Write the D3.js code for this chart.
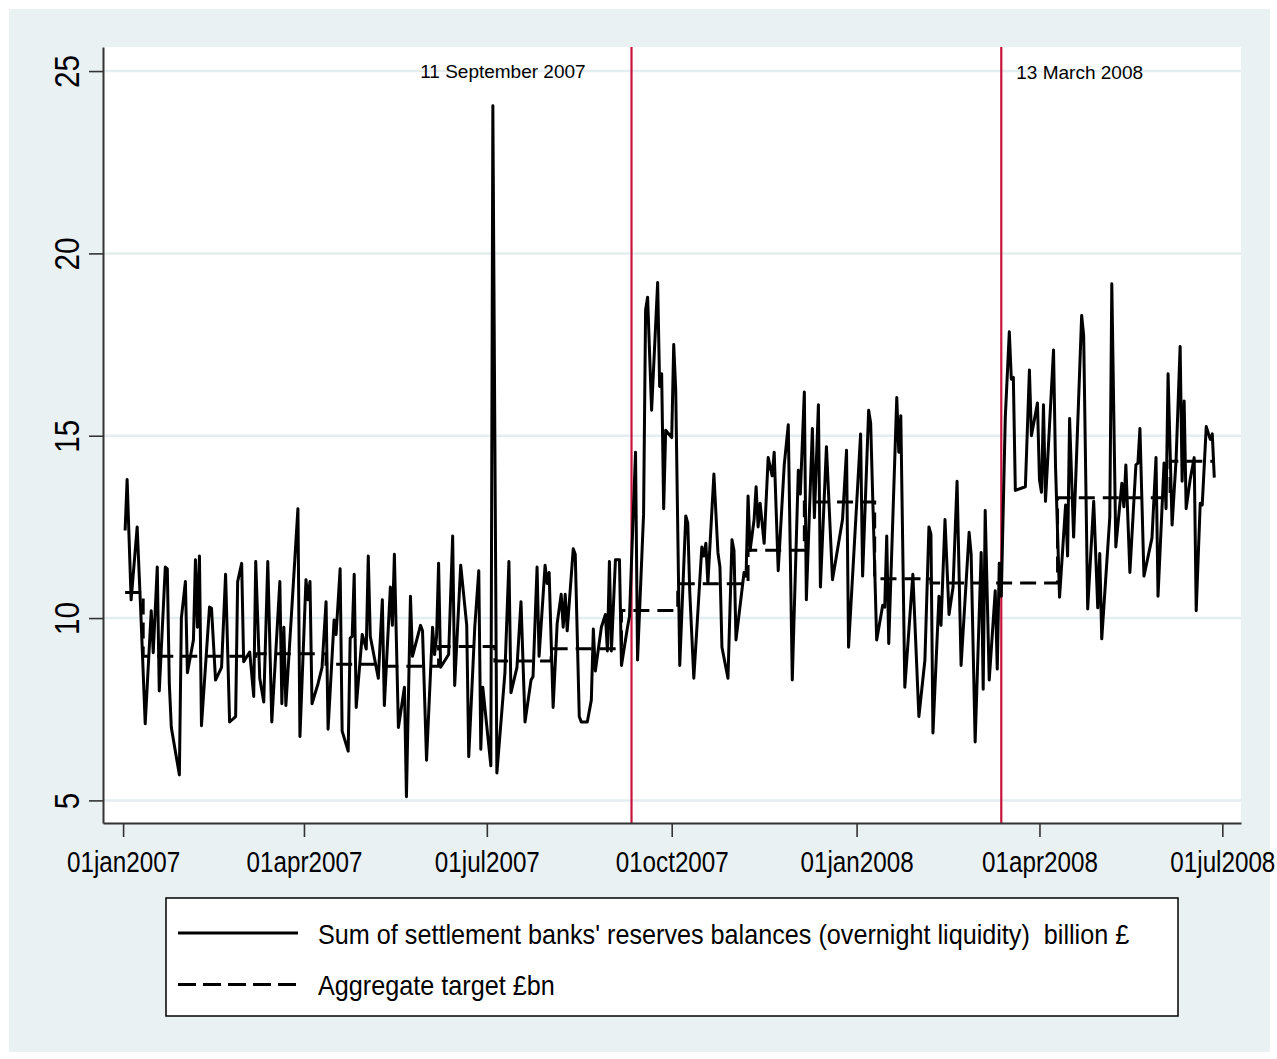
<meta charset="utf-8">
<html>
<head>
<style>
  body { margin: 0; background: #fff; }
  text { font-family: "Liberation Sans", Arial, sans-serif; fill: #000; }
</style>
</head>
<body>
<!-- chart goes here -->
<div id="my_dataviz"></div>
<script src="https://d3js.org/d3.v7.min.js"></script>
<script>
// reserves balances (billion £)
var resDates = [
  "2007-01-02","2007-01-03","2007-01-05","2007-01-08","2007-01-10","2007-01-12","2007-01-15","2007-01-16","2007-01-18","2007-01-19",
  "2007-01-22","2007-01-23","2007-01-24","2007-01-25","2007-01-29","2007-01-30","2007-02-01","2007-02-02","2007-02-05","2007-02-06",
  "2007-02-07","2007-02-08","2007-02-09","2007-02-13","2007-02-14","2007-02-16","2007-02-19","2007-02-21","2007-02-23","2007-02-26",
  "2007-02-27","2007-03-01","2007-03-02","2007-03-05","2007-03-07","2007-03-08","2007-03-10","2007-03-12","2007-03-14","2007-03-16",
  "2007-03-20","2007-03-21","2007-03-22","2007-03-23","2007-03-29","2007-03-30","2007-04-02","2007-04-03","2007-04-04","2007-04-05",
  "2007-04-08","2007-04-10","2007-04-12","2007-04-13","2007-04-16","2007-04-17","2007-04-19","2007-04-20","2007-04-23","2007-04-24",
  "2007-04-25","2007-04-26","2007-04-27","2007-04-30","2007-05-02","2007-05-03","2007-05-04","2007-05-08","2007-05-10","2007-05-11",
  "2007-05-14","2007-05-15","2007-05-16","2007-05-18","2007-05-21","2007-05-22","2007-05-24","2007-05-25","2007-05-29","2007-05-30",
  "2007-06-01","2007-06-04","2007-06-05","2007-06-06","2007-06-07","2007-06-08","2007-06-12","2007-06-14","2007-06-15","2007-06-18",
  "2007-06-21","2007-06-22","2007-06-25","2007-06-27","2007-06-28","2007-06-29","2007-07-03","2007-07-04","2007-07-06","2007-07-10",
  "2007-07-12","2007-07-13","2007-07-16","2007-07-18","2007-07-20","2007-07-23","2007-07-24","2007-07-26","2007-07-27","2007-07-30",
  "2007-07-31","2007-08-01","2007-08-03","2007-08-05","2007-08-07","2007-08-08","2007-08-09","2007-08-10","2007-08-13","2007-08-14",
  "2007-08-16","2007-08-17","2007-08-20","2007-08-22","2007-08-23","2007-08-24","2007-08-27","2007-08-29","2007-08-30","2007-08-31",
  "2007-09-01","2007-09-03","2007-09-05","2007-09-06","2007-09-09","2007-09-10","2007-09-13","2007-09-14","2007-09-17","2007-09-18",
  "2007-09-19","2007-09-21","2007-09-24","2007-09-25","2007-09-26","2007-09-27","2007-09-28","2007-10-01","2007-10-02","2007-10-03",
  "2007-10-05","2007-10-08","2007-10-09","2007-10-10","2007-10-12","2007-10-16","2007-10-17","2007-10-18","2007-10-19","2007-10-22",
  "2007-10-24","2007-10-25","2007-10-26","2007-10-29","2007-10-31","2007-11-01","2007-11-02","2007-11-06","2007-11-07","2007-11-08",
  "2007-11-09","2007-11-11","2007-11-12","2007-11-13","2007-11-14","2007-11-16","2007-11-18","2007-11-20","2007-11-21","2007-11-23",
  "2007-11-26","2007-11-28","2007-11-30","2007-12-03","2007-12-04","2007-12-06","2007-12-07","2007-12-10","2007-12-11","2007-12-13",
  "2007-12-14","2007-12-17","2007-12-20","2007-12-25","2007-12-27","2007-12-28","2008-01-03","2008-01-04","2008-01-07","2008-01-08",
  "2008-01-11","2008-01-14","2008-01-15","2008-01-16","2008-01-17","2008-01-21","2008-01-22","2008-01-23","2008-01-25","2008-01-29",
  "2008-02-01","2008-02-04","2008-02-06","2008-02-07","2008-02-08","2008-02-11","2008-02-12","2008-02-14","2008-02-16","2008-02-18",
  "2008-02-20","2008-02-22","2008-02-26","2008-02-27","2008-02-29","2008-03-03","2008-03-04","2008-03-05","2008-03-07","2008-03-10",
  "2008-03-11","2008-03-12","2008-03-13","2008-03-15","2008-03-17","2008-03-18","2008-03-19","2008-03-20","2008-03-25","2008-03-27",
  "2008-03-28","2008-03-31","2008-04-01","2008-04-02","2008-04-03","2008-04-04","2008-04-08","2008-04-09","2008-04-11","2008-04-14",
  "2008-04-15","2008-04-16","2008-04-18","2008-04-22","2008-04-23","2008-04-25","2008-04-28","2008-04-30","2008-05-01","2008-05-02",
  "2008-05-06","2008-05-07","2008-05-09","2008-05-12","2008-05-13","2008-05-14","2008-05-16","2008-05-19","2008-05-20","2008-05-21",
  "2008-05-23","2008-05-27","2008-05-29","2008-05-30","2008-06-02","2008-06-03","2008-06-04","2008-06-06","2008-06-08","2008-06-10",
  "2008-06-11","2008-06-12","2008-06-13","2008-06-15","2008-06-17","2008-06-18","2008-06-20","2008-06-21","2008-06-23","2008-06-25",
  "2008-06-26","2008-06-27"
];
var resValues = [
  12.4,13.8,10.5,12.5,9.9,7.1,10.2,9.05,11.4,8.0,
  11.4,11.35,8.2,7.0,5.7,10.0,11.0,8.5,9.4,11.6,
  9.75,11.7,7.05,10.3,10.27,8.3,8.65,11.2,7.15,7.3,
  11.0,11.5,8.8,9.07,7.85,11.55,8.35,7.7,11.55,7.15,
  11.0,7.65,9.75,7.6,13.0,6.75,11.05,10.5,11.0,7.65,
  8.2,8.65,10.45,6.95,9.95,9.55,11.35,6.9,6.35,9.45,
  9.5,11.2,7.55,9.55,9.15,11.7,9.5,8.35,10.5,7.6,
  10.85,9.8,11.75,7.0,8.1,5.1,10.6,8.95,9.8,9.65,
  6.1,9.75,9.0,9.5,11.5,8.65,9.0,12.25,8.15,11.45,
  9.8,6.2,9.75,11.3,6.4,8.1,5.95,24.05,5.75,8.5,
  11.55,7.95,8.65,10.45,7.15,8.3,8.4,11.4,8.95,11.45,
  10.95,11.25,7.55,9.85,10.65,9.75,10.65,9.65,11.9,11.75,
  7.3,7.15,7.15,7.75,9.7,8.55,9.75,10.1,9.1,11.55,
  9.1,11.6,11.6,8.7,9.75,10.05,14.55,8.85,12.85,18.45,
  18.8,15.7,19.2,16.35,16.7,13.0,15.15,14.95,17.5,16.25,
  8.7,12.8,12.6,10.7,8.35,11.95,11.7,12.05,10.95,13.95,
  11.8,11.4,9.2,8.35,12.15,11.85,9.4,11.25,11.15,13.35,
  11.85,12.7,13.6,12.5,13.15,12.05,14.4,13.9,14.55,11.3,
  14.2,15.3,8.3,14.05,13.4,16.2,10.5,15.2,12.75,15.85,
  10.85,14.7,11.05,12.7,14.6,9.2,15.05,11.15,15.7,15.35,
  9.4,10.35,10.3,12.25,9.3,16.05,14.55,15.55,8.1,11.2,
  7.3,8.85,12.5,12.3,6.85,10.6,9.8,12.7,10.1,10.85,
  13.75,8.7,12.35,11.75,6.6,11.8,8.05,12.95,8.3,10.75,
  8.6,11.5,10.6,15.5,17.85,16.55,16.6,13.5,13.6,16.8,
  15.0,15.9,13.8,13.45,15.85,13.2,17.35,14.15,10.57,13.1,
  11.7,15.47,12.22,18.3,17.75,10.25,13.2,10.28,11.77,9.43,
  12.77,19.17,11.95,13.7,13.05,14.2,11.25,14.2,14.25,15.2,
  11.15,12.2,14.4,10.6,14.25,13.0,16.7,12.55,14.35,17.45,
  13.75,15.95,13.0,13.8,14.4,10.2,13.15,13.1,15.25,14.9,
  15.05,13.85
];

// aggregate target, one value per maintenance period
var targetStart = ["2007-01-02","2007-01-11","2007-03-08","2007-04-12","2007-05-10","2007-06-07","2007-07-05","2007-08-02",
                   "2007-09-06","2007-10-04","2007-11-08","2007-12-06","2008-01-10","2008-02-07","2008-03-06","2008-04-10","2008-06-05"];
var targetValue = [10.7, 8.95, 9.02, 8.73, 8.68, 9.22, 8.82, 9.16, 10.21, 10.94, 11.86, 13.18, 11.08, 10.96, 10.96, 13.3, 14.3];
var targetEnd = "2008-06-27";

// event markers
var eventDates  = ["2007-09-11", "2008-03-13"];
var eventLabels = ["11 September 2007", "13 March 2008"];
var labelDates  = ["2007-07-09", "2008-04-21"];
var labelValues = [24.8, 24.77];

var yTicks = [5, 10, 15, 20, 25];
var xTicks = ["2007-01-01","2007-04-01","2007-07-01","2007-10-01","2008-01-01","2008-04-01","2008-07-01"];
var legendLabels = ["Sum of settlement banks' reserves balances (overnight liquidity)  billion \u00a3", "Aggregate target \u00a3bn"];

var parse = d3.timeParse("%Y-%m-%d");
var W = 1277, H = 1059;
var plot = {left: 103, right: 1241, top: 47, bottom: 823};

var svg = d3.select("#my_dataviz")
  .append("svg")
    .attr("width", W)
    .attr("height", H);

// outer background
svg.append("rect")
    .attr("x", 9).attr("y", 9)
    .attr("width", 1261).attr("height", 1043)
    .attr("fill", "#e9f1f3");
svg.append("rect")
    .attr("x", plot.left).attr("y", plot.top)
    .attr("width", plot.right - plot.left).attr("height", plot.bottom - plot.top)
    .attr("fill", "#fff");

var x = d3.scaleTime()
    .domain([new Date(2006, 11, 22), new Date(2008, 6, 10, 7)])
    .range([plot.left, plot.right]);
var y = d3.scaleLinear()
    .domain([4.38, 25.66])
    .range([plot.bottom, plot.top]);

// gridlines
svg.append("g")
  .selectAll("line")
  .data(yTicks)
  .enter().append("line")
    .attr("x1", plot.left).attr("x2", plot.right)
    .attr("y1", function(d) { return y(d); })
    .attr("y2", function(d) { return y(d); })
    .attr("stroke", "#e4eef0")
    .attr("stroke-width", 2.5);

// red event lines
svg.append("g")
  .selectAll("line")
  .data(eventDates)
  .enter().append("line")
    .attr("x1", function(d) { return x(parse(d)); })
    .attr("x2", function(d) { return x(parse(d)); })
    .attr("y1", plot.top).attr("y2", plot.bottom)
    .attr("stroke", "#c8143c")
    .attr("stroke-width", 2.2);

// target (step, dashed)
var target = targetStart.map(function(d, i) { return [parse(d), targetValue[i]]; });
target.push([parse(targetEnd), targetValue[targetValue.length - 1]]);
svg.append("path")
    .datum(target)
    .attr("fill", "none")
    .attr("stroke", "#000")
    .attr("stroke-width", 3)
    .attr("stroke-dasharray", "16,8")
    .attr("d", d3.line()
      .curve(d3.curveStepAfter)
      .x(function(d) { return x(d[0]); })
      .y(function(d) { return y(d[1]); })
    );

// reserves line
var res = resDates.map(function(d, i) { return [parse(d), resValues[i]]; });
svg.append("path")
    .datum(res)
    .attr("fill", "none")
    .attr("stroke", "#000")
    .attr("stroke-width", 3)
    .attr("stroke-linejoin", "round")
    .attr("d", d3.line()
      .x(function(d) { return x(d[0]); })
      .y(function(d) { return y(d[1]); })
    );

// x axis (labels squeezed horizontally, like the narrow face in the original)
var fmt = d3.timeFormat("%d%b%Y");
var xAxis = svg.append("g")
    .attr("transform", "translate(0," + plot.bottom + ")")
    .call(d3.axisBottom(x)
      .tickValues(xTicks.map(parse))
      .tickSize(14)
      .tickSizeOuter(0)
      .tickFormat(function(d) { return fmt(d).toLowerCase(); }));
xAxis.select(".domain").attr("stroke", "#333").attr("stroke-width", 2);
xAxis.selectAll(".tick line").attr("stroke", "#333").attr("stroke-width", 1.6);
xAxis.selectAll(".tick text")
    .attr("y", 0).attr("dy", null)
    .attr("transform", "translate(0,49) scale(0.835,1)")
    .style("font-size", "29px");

// y axis
var yAxis = svg.append("g")
    .attr("transform", "translate(" + plot.left + ",0)")
    .call(d3.axisLeft(y)
      .tickValues(yTicks)
      .tickSize(14)
      .tickSizeOuter(0));
yAxis.select(".domain").attr("stroke", "#333").attr("stroke-width", 2);
yAxis.selectAll(".tick line").attr("stroke", "#333").attr("stroke-width", 1.6);
yAxis.selectAll(".tick text")
    .attr("transform", "rotate(-90) scale(0.85,1)")
    .attr("x", 0).attr("y", -24).attr("dy", null)
    .attr("text-anchor", "middle")
    .style("font-size", "35px");
svg.selectAll(".tick text").attr("fill", "#000");
svg.selectAll("g").attr("font-family", null);

// event labels
svg.append("g")
  .selectAll("text")
  .data(eventLabels)
  .enter().append("text")
    .attr("x", function(d, i) { return x(parse(labelDates[i])); })
    .attr("y", function(d, i) { return y(labelValues[i]); })
    .attr("text-anchor", "middle")
    .style("font-size", "19px")
    .text(function(d) { return d; });

// legend
var legend = svg.append("g");
legend.append("rect")
    .attr("x", 166).attr("y", 898)
    .attr("width", 1012).attr("height", 118)
    .attr("fill", "#fff")
    .attr("stroke", "#000")
    .attr("stroke-width", 1.5);
var rows = legend.selectAll(".row")
  .data(legendLabels)
  .enter().append("g")
    .attr("transform", function(d, i) { return "translate(0," + (933 + i * 51.5) + ")"; });
rows.append("line")
    .attr("x1", 178).attr("x2", 298)
    .attr("stroke", "#000")
    .attr("stroke-width", 3)
    .attr("stroke-dasharray", function(d, i) { return i ? "18,7" : null; });
rows.append("text")
    .attr("transform", "translate(318,10.5) scale(0.9,1)")
    .style("font-size", "28px")
    .style("white-space", "pre")
    .text(function(d) { return d; });
</script>
</body>
</html>
